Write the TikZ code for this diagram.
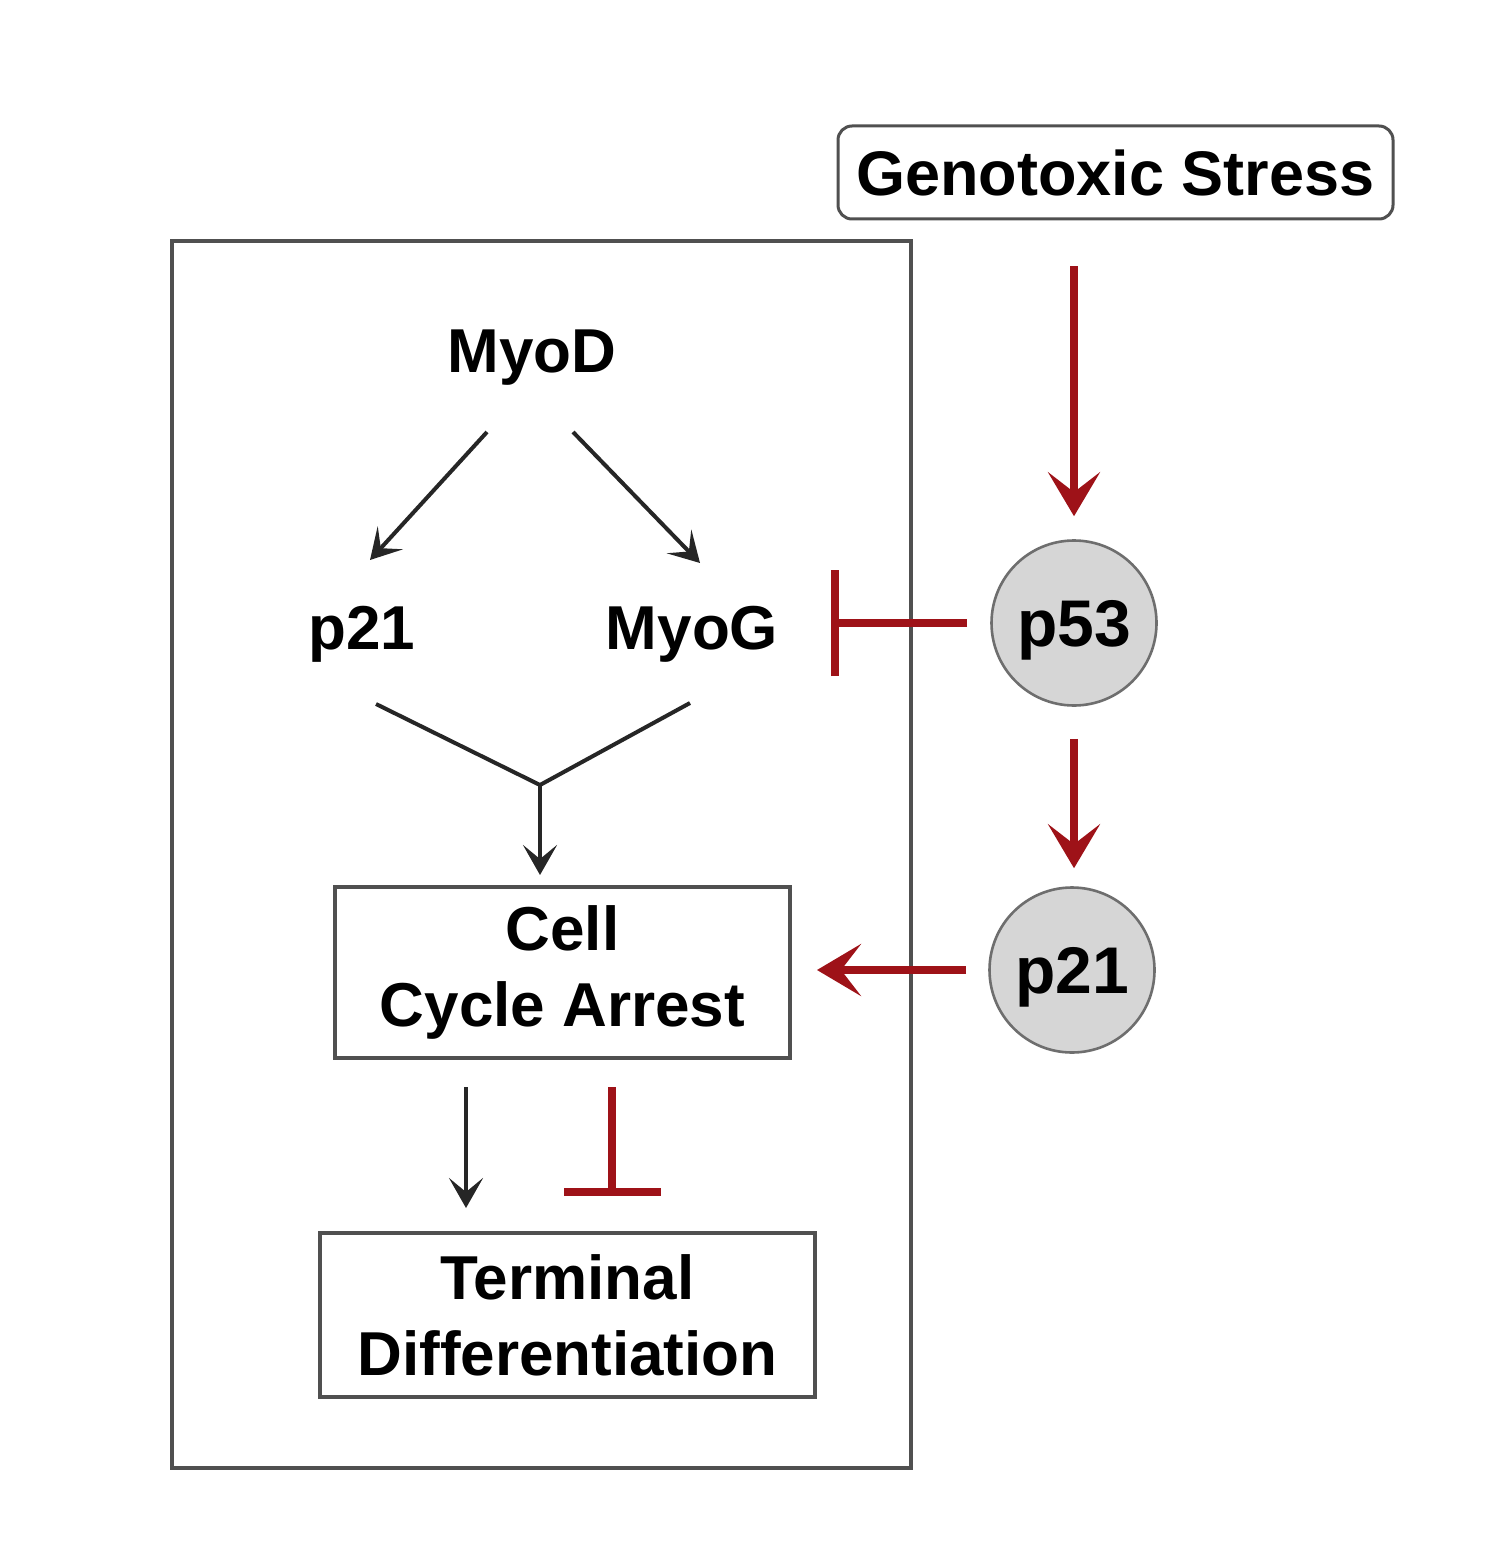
\documentclass[tikz,border=0pt]{standalone}
\usepackage{fontspec}
\setmainfont{Liberation Sans}
\usetikzlibrary{arrows.meta,calc}
\definecolor{inhred}{RGB}{158,18,24}
\definecolor{boxgray}{RGB}{80,80,80}
\definecolor{circgray}{RGB}{110,110,110}
\definecolor{circfill}{RGB}{214,214,214}
\begin{document}
\begin{tikzpicture}[x=0.5pt,y=-0.5pt,
  lbl/.style={font=\fontsize{31}{38}\selectfont\bfseries, inner sep=0pt,
    text height=22.2pt, text depth=0pt},
  rbox/.style={draw=boxgray, line width=2pt, align=center, inner sep=0pt,
    font=\fontsize{31}{38}\selectfont\bfseries},
  circ/.style={circle, draw=circgray, line width=1.3pt, fill=circfill,
    minimum size=82.5pt, inner sep=0pt, text height=23.6pt, text depth=0pt,
    font=\fontsize{33}{38}\selectfont\bfseries},
  act/.style={draw=black!85, line width=2pt, -{Stealth[length=15pt,width=17pt,inset=7pt]}},
  ract/.style={draw=inhred, line width=4pt, -{Stealth[length=22pt,width=26pt,inset=10pt]}},
  inh/.style={draw=inhred, line width=4pt, -{Bar[width=#1]}},
  inh/.default=53pt]
\fill[white] (0,0) rectangle (1500,1556);
\useasboundingbox (0,0) rectangle (1500,1556);
% cell frame
\draw[draw=boxgray, line width=2pt] (172,241) rectangle (911,1468);
% nodes
\node[draw=boxgray, line width=1.5pt, rounded corners=7pt, minimum width=277.5pt,
  minimum height=46.5pt, inner sep=0pt, font=\fontsize{31.5}{38}\selectfont\bfseries]
  (gs) at (1115.5,172.5) {Genotoxic Stress};
\node[circ] (p53) at (1074,623) {p53};
\node[circ] (p21r) at (1072,970) {p21};
\node[lbl] (myod) at (532,350) {MyoD};
\node[lbl] (p21l) at (362,627) {p21};
\node[lbl] (myog) at (692,627) {MyoG};
\node[rbox, minimum width=227.5pt, minimum height=85.5pt] (cca) at (562.5,972.5) {Cell\\Cycle Arrest};
\node[rbox, minimum width=247.5pt, minimum height=82pt] (td) at (567.5,1315) {Terminal\\Differentiation};
% red pathway
\draw[ract, shorten <=23pt, shorten >=11.5pt] (gs.south -| p53) -- (p53.north);
\draw[ract, shorten <=16pt, shorten >=9pt] (p53.south) -- (p53.south |- p21r.north);
\draw[ract, shorten <=11pt, shorten >=12.5pt] (p21r.west) -- (p21r -| cca.east);
\draw[inh, shorten <=11.5pt, shorten >=26pt] (p53.west) -- (p53 -| myog.east);
% black pathway
\draw[act] ($(myod)+(-45,82)$) -- ($(p21l)+(8,-67)$);
\draw[act] ($(myod)+(41,82)$) -- ($(myog)+(8,-64)$);
\coordinate (mj) at (540,785);
\draw[draw=black!85, line width=2pt, line join=miter] ($(p21l)+(14,77)$) -- (mj) -- ($(myog)+(-2,76)$);
\draw[act, shorten >=5pt] (mj) -- (mj |- cca.north);
\draw[act, shorten <=13.5pt, shorten >=11.5pt] ($(cca.south)+(-96.5,0)$) -- ($(td.north)+(-101.5,0)$);
\draw[inh=48.5pt, shorten <=13.5pt, shorten >=17.5pt] ($(cca.south)+(49.5,0)$) -- ($(td.north)+(44.5,0)$);
\end{tikzpicture}
\end{document}
